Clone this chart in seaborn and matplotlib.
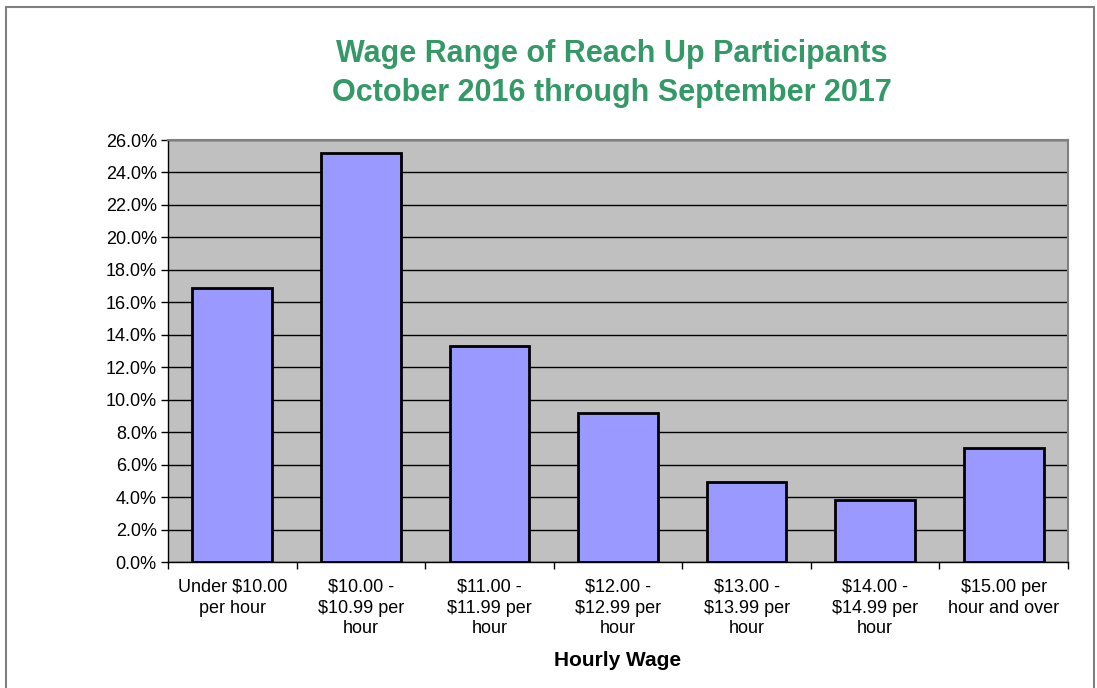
import matplotlib
matplotlib.use("Agg")
import matplotlib.pyplot as plt
import seaborn as sns
import pandas as pd
import numpy as np
from matplotlib.patches import Rectangle
from matplotlib.ticker import FixedLocator

categories = ["Under $10.00\nper hour", "$10.00 -\n$10.99 per\nhour", "$11.00 -\n$11.99 per\nhour",
              "$12.00 -\n$12.99 per\nhour", "$13.00 -\n$13.99 per\nhour", "$14.00 -\n$14.99 per\nhour",
              "$15.00 per\nhour and over"]
values = [16.9, 25.2, 13.3, 9.2, 4.9, 3.8, 7.0]
yticks = [0, 2, 4, 6, 8, 10, 12, 14, 16, 18, 20, 22, 24, 26]

sns.set_theme(style="white")
plt.rcParams['font.family'] = ['Liberation Sans', 'DejaVu Sans']
plt.rcParams['text.color'] = 'black'
plt.rcParams['xtick.color'] = 'black'
plt.rcParams['ytick.color'] = 'black'
plt.rcParams['axes.labelcolor'] = 'black'

df = pd.DataFrame({"cat": categories, "val": values})
fig = plt.figure(figsize=(10.97, 6.88), dpi=100)
ax = fig.add_axes([0.1531, 0.1831, 0.8205, 0.6134])
ax.set_facecolor("#C0C0C0")
ax.set_axisbelow(True)
sns.barplot(data=df, x="cat", y="val", color="#9999FF", saturation=1, width=0.62,
            edgecolor="black", linewidth=2, ax=ax)
ax.set_ylim(0, 26)
ax.set_xlim(-0.5, len(categories) - 0.5)
ax.set_yticks(yticks)
ax.set_yticklabels([f"{t:.1f}%" for t in yticks], fontsize=13)
ax.yaxis.grid(True, color="black", linewidth=1)
ax.tick_params(axis="y", left=True, length=5, width=1, color="black", labelcolor="black", pad=3)
ax.tick_params(axis="x", bottom=False, labelsize=13, labelcolor="black", pad=6)
for lbl in ax.get_xticklabels():
    lbl.set_linespacing(1.3)
ax.xaxis.set_minor_locator(FixedLocator(np.arange(-0.5, len(categories), 1.0)))
ax.tick_params(axis="x", which="minor", bottom=True, length=5, width=1, color="black")
for s in ["top", "right"]:
    ax.spines[s].set_color("#808080")
    ax.spines[s].set_linewidth(1.5)
ax.spines["left"].set_color("black")
ax.spines["bottom"].set_color("black")
ax.spines["left"].set_linewidth(1)
ax.spines["bottom"].set_linewidth(1)
ax.set_ylabel("")
ax.set_xlabel("Hourly Wage", fontsize=15, fontweight="bold", labelpad=10, color="black")
fig.text(0.558, 0.893, "Wage Range of Reach Up Participants\nOctober 2016 through September 2017",
         ha="center", va="center", fontsize=22, fontweight="bold", color="#339966", linespacing=1.4)
fig.patches.append(Rectangle((6/1097, -0.05), 1088/1097, 1 - 7/688 + 0.05, transform=fig.transFigure,
                             fill=False, edgecolor="#808080", linewidth=1.5))
fig.savefig("out.png", dpi=100)
